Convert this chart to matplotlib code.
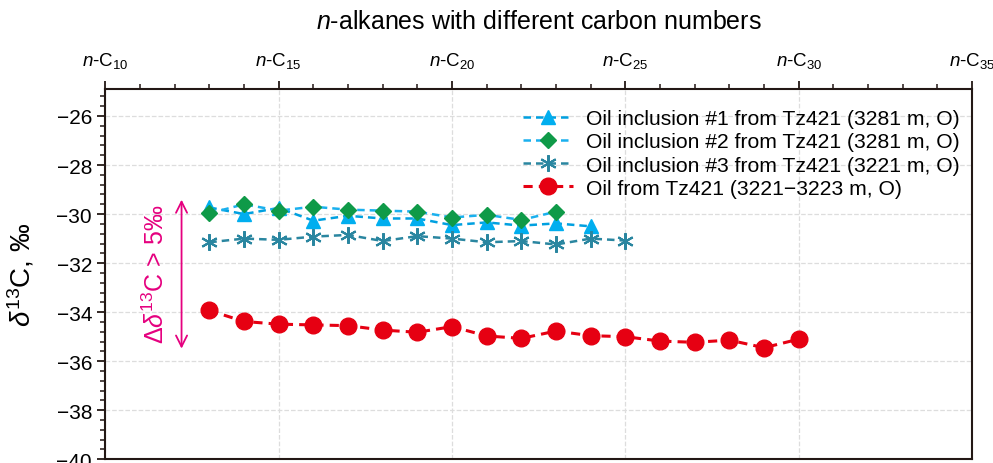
import numpy as np
import matplotlib
matplotlib.use("Agg")
import matplotlib.pyplot as plt
from matplotlib.ticker import MultipleLocator

plt.rcParams['font.family'] = ['Liberation Sans', 'DejaVu Sans']
plt.rcParams['mathtext.fontset'] = 'custom'
plt.rcParams['mathtext.rm'] = 'Liberation Sans'
plt.rcParams['mathtext.it'] = 'Liberation Sans:italic'
plt.rcParams['mathtext.default'] = 'regular'

# carbon numbers and d13C values (per mil)
carbon_incl1 = np.arange(13, 25)
incl1 = [-29.73, -30.0, -29.75, -30.27, -30.07, -30.18, -30.18, -30.45, -30.34, -30.47, -30.38, -30.5]

carbon_incl2 = np.arange(13, 24)
incl2 = [-29.97, -29.6, -29.86, -29.7, -29.82, -29.86, -29.9, -30.14, -30.03, -30.24, -29.9]

carbon_incl3 = np.arange(13, 26)
incl3 = [-31.15, -31.0, -31.05, -30.92, -30.85, -31.1, -30.9, -31.0, -31.15, -31.1, -31.24, -31.0, -31.08]

carbon_oil = np.arange(13, 31)
oil = [-33.93, -34.38, -34.49, -34.52, -34.55, -34.73, -34.82, -34.59, -34.97, -35.07,
       -34.77, -34.96, -35.0, -35.18, -35.23, -35.14, -35.45, -35.1]

xticks = [10, 15, 20, 25, 30, 35]
xlabels = [r'$\mathit{n}$-C$_{%d}$' % c for c in xticks]
yticks = np.arange(-40, -25, 2)

fig = plt.figure(figsize=(9.93, 4.64), dpi=100)
ax = fig.add_axes([0.106, 0.008, 0.873, 0.798])

dash = (0, (3, 2))
ax.plot(carbon_incl1, incl1, ls=dash, color='#00a0e0', lw=1.8, marker='^', ms=10,
        mfc='#00aeef', mec='#00aeef', label='Oil inclusion #1 from Tz421 (3281 m, O)', zorder=3)
ax.plot(carbon_incl2, incl2, ls=dash, color='#1ab0ee', lw=1.8, marker='D', ms=8.5,
        mfc='#0f9a48', mec='#0f9a48', label='Oil inclusion #2 from Tz421 (3281 m, O)', zorder=4)
ax.plot(carbon_incl3, incl3, ls=dash, color='#2a86a0', lw=1.8, marker=(6, 2, 0), ms=12,
        mec='#2a86a0', mew=1.5, label='Oil inclusion #3 from Tz421 (3221 m, O)', zorder=3)
ax.plot(carbon_oil, oil, ls=dash, color='#e60012', lw=2.2, marker='o', ms=12,
        mfc='#e60012', mec='#e60012', label='Oil from Tz421 (3221\u22123223 m, O)', zorder=3)

ax.set_xlim(10, 35)
ax.set_ylim(-40, -24.9)
ax.xaxis.tick_top()
ax.set_xticks(xticks)
ax.set_xticklabels(xlabels, fontsize=13.5)
ax.xaxis.set_minor_locator(MultipleLocator(1))
ax.set_yticks(yticks)
ax.set_yticklabels(['\u2212%d' % abs(v) for v in yticks], fontsize=15)
ax.yaxis.set_minor_locator(MultipleLocator(0.4))
ax.tick_params(which='major', direction='out', length=6, width=1.3, color='#231815')
ax.tick_params(which='minor', direction='out', length=3.5, width=1.1, color='#231815')
ax.tick_params(axis='x', which='major', pad=8)
for s in ax.spines.values():
    s.set_linewidth(1.5)
    s.set_color('#231815')
ax.grid(True, which='major', ls='--', color='#dddddd', lw=0.9)
ax.set_axisbelow(True)

ax.set_title(r'$\mathit{n}$-alkanes with different carbon numbers', fontsize=18, pad=44)
ax.set_ylabel('$\\mathit{\\delta}^{13}$C, \u2030', fontsize=20, labelpad=14)

ax.annotate('', xy=(12.2, -29.3), xytext=(12.2, -35.6),
            arrowprops=dict(arrowstyle='<->', color='#e5007f', lw=1.3, mutation_scale=20))
ax.text(11.45, -32.4, '$\\Delta\\mathit{\\delta}^{13}$C > 5\u2030', rotation=90, color='#e5007f',
        fontsize=18, ha='center', va='center')

ax.legend(loc='upper right', frameon=False, fontsize=15.2, handlelength=2.4,
          labelspacing=0.2, borderaxespad=0.2, handletextpad=0.6, bbox_to_anchor=(1.0, 0.98))

fig.savefig('out.png', dpi=100)
